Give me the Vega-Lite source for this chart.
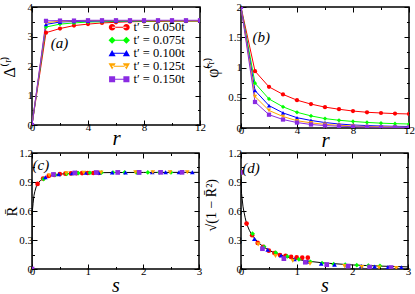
{
  "$schema": "https://vega.github.io/schema/vega-lite/v6.json",
  "padding": {"left": 0, "top": 0, "right": 0, "bottom": 0},
  "background": "white",
  "bounds": "flush",
  "columns": 2,
  "spacing": {"row": 25, "column": 41},
  "datasets": {
    "ab": [
      {"series": "t′ = 0.050t", "shp": "circle", "r": 0, "delta": 0, "phi": 2},
      {"series": "t′ = 0.050t", "shp": "circle", "r": 1, "delta": 3.13, "phi": 0.94},
      {"series": "t′ = 0.050t", "shp": "circle", "r": 2, "delta": 3.27, "phi": 0.68},
      {"series": "t′ = 0.050t", "shp": "circle", "r": 3, "delta": 3.37, "phi": 0.555},
      {"series": "t′ = 0.050t", "shp": "circle", "r": 4, "delta": 3.42, "phi": 0.46},
      {"series": "t′ = 0.050t", "shp": "circle", "r": 5, "delta": 3.46, "phi": 0.395},
      {"series": "t′ = 0.050t", "shp": "circle", "r": 6, "delta": 3.48, "phi": 0.345},
      {"series": "t′ = 0.050t", "shp": "circle", "r": 7, "delta": 3.5, "phi": 0.31},
      {"series": "t′ = 0.050t", "shp": "circle", "r": 8, "delta": 3.51, "phi": 0.28},
      {"series": "t′ = 0.050t", "shp": "circle", "r": 9, "delta": 3.51, "phi": 0.26},
      {"series": "t′ = 0.050t", "shp": "circle", "r": 10, "delta": 3.52, "phi": 0.248},
      {"series": "t′ = 0.050t", "shp": "circle", "r": 11, "delta": 3.52, "phi": 0.238},
      {"series": "t′ = 0.050t", "shp": "circle", "r": 12, "delta": 3.52, "phi": 0.232},
      {"series": "t′ = 0.075t", "shp": "diamond", "r": 0, "delta": 0, "phi": 2},
      {"series": "t′ = 0.075t", "shp": "diamond", "r": 1, "delta": 3.32, "phi": 0.74},
      {"series": "t′ = 0.075t", "shp": "diamond", "r": 2, "delta": 3.42, "phi": 0.48},
      {"series": "t′ = 0.075t", "shp": "diamond", "r": 3, "delta": 3.46, "phi": 0.35},
      {"series": "t′ = 0.075t", "shp": "diamond", "r": 4, "delta": 3.49, "phi": 0.26},
      {"series": "t′ = 0.075t", "shp": "diamond", "r": 5, "delta": 3.5, "phi": 0.2},
      {"series": "t′ = 0.075t", "shp": "diamond", "r": 6, "delta": 3.51, "phi": 0.155},
      {"series": "t′ = 0.075t", "shp": "diamond", "r": 7, "delta": 3.52, "phi": 0.128},
      {"series": "t′ = 0.075t", "shp": "diamond", "r": 8, "delta": 3.52, "phi": 0.108},
      {"series": "t′ = 0.075t", "shp": "diamond", "r": 9, "delta": 3.53, "phi": 0.092},
      {"series": "t′ = 0.075t", "shp": "diamond", "r": 10, "delta": 3.53, "phi": 0.08},
      {"series": "t′ = 0.075t", "shp": "diamond", "r": 11, "delta": 3.53, "phi": 0.072},
      {"series": "t′ = 0.075t", "shp": "diamond", "r": 12, "delta": 3.53, "phi": 0.066},
      {"series": "t′ = 0.100t", "shp": "triangle-up", "r": 0, "delta": 0, "phi": 2},
      {"series": "t′ = 0.100t", "shp": "triangle-up", "r": 1, "delta": 3.41, "phi": 0.62},
      {"series": "t′ = 0.100t", "shp": "triangle-up", "r": 2, "delta": 3.49, "phi": 0.37},
      {"series": "t′ = 0.100t", "shp": "triangle-up", "r": 3, "delta": 3.51, "phi": 0.25},
      {"series": "t′ = 0.100t", "shp": "triangle-up", "r": 4, "delta": 3.52, "phi": 0.17},
      {"series": "t′ = 0.100t", "shp": "triangle-up", "r": 5, "delta": 3.53, "phi": 0.125},
      {"series": "t′ = 0.100t", "shp": "triangle-up", "r": 6, "delta": 3.53, "phi": 0.09},
      {"series": "t′ = 0.100t", "shp": "triangle-up", "r": 7, "delta": 3.53, "phi": 0.066},
      {"series": "t′ = 0.100t", "shp": "triangle-up", "r": 8, "delta": 3.54, "phi": 0.05},
      {"series": "t′ = 0.100t", "shp": "triangle-up", "r": 9, "delta": 3.54, "phi": 0.04},
      {"series": "t′ = 0.100t", "shp": "triangle-up", "r": 10, "delta": 3.54, "phi": 0.033},
      {"series": "t′ = 0.100t", "shp": "triangle-up", "r": 11, "delta": 3.54, "phi": 0.028},
      {"series": "t′ = 0.100t", "shp": "triangle-up", "r": 12, "delta": 3.54, "phi": 0.025},
      {"series": "t′ = 0.125t", "shp": "triangle-down", "r": 0, "delta": 0, "phi": 2},
      {"series": "t′ = 0.125t", "shp": "triangle-down", "r": 1, "delta": 3.47, "phi": 0.52},
      {"series": "t′ = 0.125t", "shp": "triangle-down", "r": 2, "delta": 3.52, "phi": 0.29},
      {"series": "t′ = 0.125t", "shp": "triangle-down", "r": 3, "delta": 3.53, "phi": 0.19},
      {"series": "t′ = 0.125t", "shp": "triangle-down", "r": 4, "delta": 3.54, "phi": 0.12},
      {"series": "t′ = 0.125t", "shp": "triangle-down", "r": 5, "delta": 3.54, "phi": 0.085},
      {"series": "t′ = 0.125t", "shp": "triangle-down", "r": 6, "delta": 3.54, "phi": 0.06},
      {"series": "t′ = 0.125t", "shp": "triangle-down", "r": 7, "delta": 3.54, "phi": 0.044},
      {"series": "t′ = 0.125t", "shp": "triangle-down", "r": 8, "delta": 3.54, "phi": 0.033},
      {"series": "t′ = 0.125t", "shp": "triangle-down", "r": 9, "delta": 3.54, "phi": 0.025},
      {"series": "t′ = 0.125t", "shp": "triangle-down", "r": 10, "delta": 3.54, "phi": 0.02},
      {"series": "t′ = 0.125t", "shp": "triangle-down", "r": 11, "delta": 3.54, "phi": 0.015},
      {"series": "t′ = 0.125t", "shp": "triangle-down", "r": 12, "delta": 3.54, "phi": 0.012},
      {"series": "t′ = 0.150t", "shp": "square", "r": 0, "delta": 0, "phi": 2},
      {"series": "t′ = 0.150t", "shp": "square", "r": 1, "delta": 3.53, "phi": 0.43},
      {"series": "t′ = 0.150t", "shp": "square", "r": 2, "delta": 3.54, "phi": 0.22},
      {"series": "t′ = 0.150t", "shp": "square", "r": 3, "delta": 3.54, "phi": 0.14},
      {"series": "t′ = 0.150t", "shp": "square", "r": 4, "delta": 3.55, "phi": 0.09},
      {"series": "t′ = 0.150t", "shp": "square", "r": 5, "delta": 3.55, "phi": 0.058},
      {"series": "t′ = 0.150t", "shp": "square", "r": 6, "delta": 3.55, "phi": 0.04},
      {"series": "t′ = 0.150t", "shp": "square", "r": 7, "delta": 3.55, "phi": 0.03},
      {"series": "t′ = 0.150t", "shp": "square", "r": 8, "delta": 3.55, "phi": 0.021},
      {"series": "t′ = 0.150t", "shp": "square", "r": 9, "delta": 3.55, "phi": 0.016},
      {"series": "t′ = 0.150t", "shp": "square", "r": 10, "delta": 3.55, "phi": 0.012},
      {"series": "t′ = 0.150t", "shp": "square", "r": 11, "delta": 3.55, "phi": 0.01},
      {"series": "t′ = 0.150t", "shp": "square", "r": 12, "delta": 3.55, "phi": 0.008}
    ],
    "legendRows": [
      {"series": "t′ = 0.050t"},
      {"series": "t′ = 0.075t"},
      {"series": "t′ = 0.100t"},
      {"series": "t′ = 0.125t"},
      {"series": "t′ = 0.150t"}
    ],
    "cd": [
      {"series": "t′ = 0.050t", "shp": "circle", "s": 0, "R": 0, "d": 1.0},
      {"series": "t′ = 0.050t", "shp": "circle", "s": 0.1, "R": 0.88, "d": 0.47},
      {"series": "t′ = 0.050t", "shp": "circle", "s": 0.2, "R": 0.935, "d": 0.35},
      {"series": "t′ = 0.050t", "shp": "circle", "s": 0.3, "R": 0.963, "d": 0.27},
      {"series": "t′ = 0.050t", "shp": "circle", "s": 0.4, "R": 0.973, "d": 0.23},
      {"series": "t′ = 0.050t", "shp": "circle", "s": 0.5, "R": 0.982, "d": 0.19},
      {"series": "t′ = 0.050t", "shp": "circle", "s": 0.6, "R": 0.986, "d": 0.165},
      {"series": "t′ = 0.050t", "shp": "circle", "s": 0.7, "R": 0.989, "d": 0.145},
      {"series": "t′ = 0.050t", "shp": "circle", "s": 0.8, "R": 0.991, "d": 0.135},
      {"series": "t′ = 0.050t", "shp": "circle", "s": 0.9, "R": 0.992, "d": 0.125},
      {"series": "t′ = 0.050t", "shp": "circle", "s": 1.0, "R": 0.993, "d": 0.12},
      {"series": "t′ = 0.050t", "shp": "circle", "s": 1.1, "R": 0.993, "d": 0.117},
      {"series": "t′ = 0.050t", "shp": "circle", "s": 1.2, "R": 0.993, "d": 0.117},
      {"series": "t′ = 0.075t", "shp": "diamond", "s": 0, "R": 0, "d": 1.0},
      {"series": "t′ = 0.075t", "shp": "diamond", "s": 0.208, "R": 0.93, "d": 0.365},
      {"series": "t′ = 0.075t", "shp": "diamond", "s": 0.416, "R": 0.973, "d": 0.23},
      {"series": "t′ = 0.075t", "shp": "diamond", "s": 0.624, "R": 0.985, "d": 0.17},
      {"series": "t′ = 0.075t", "shp": "diamond", "s": 0.832, "R": 0.991, "d": 0.13},
      {"series": "t′ = 0.075t", "shp": "diamond", "s": 1.04, "R": 0.995, "d": 0.1},
      {"series": "t′ = 0.075t", "shp": "diamond", "s": 1.248, "R": 0.997, "d": 0.075},
      {"series": "t′ = 0.075t", "shp": "diamond", "s": 1.456, "R": 0.998, "d": 0.06},
      {"series": "t′ = 0.075t", "shp": "diamond", "s": 1.664, "R": 0.999, "d": 0.05},
      {"series": "t′ = 0.075t", "shp": "diamond", "s": 1.872, "R": 0.999, "d": 0.045},
      {"series": "t′ = 0.075t", "shp": "diamond", "s": 2.08, "R": 0.999, "d": 0.04},
      {"series": "t′ = 0.075t", "shp": "diamond", "s": 2.288, "R": 0.999, "d": 0.035},
      {"series": "t′ = 0.075t", "shp": "diamond", "s": 2.496, "R": 0.999, "d": 0.033},
      {"series": "t′ = 0.100t", "shp": "triangle-up", "s": 0, "R": 0, "d": 1.0},
      {"series": "t′ = 0.100t", "shp": "triangle-up", "s": 0.24, "R": 0.95, "d": 0.31},
      {"series": "t′ = 0.100t", "shp": "triangle-up", "s": 0.48, "R": 0.98, "d": 0.2},
      {"series": "t′ = 0.100t", "shp": "triangle-up", "s": 0.72, "R": 0.99, "d": 0.14},
      {"series": "t′ = 0.100t", "shp": "triangle-up", "s": 0.96, "R": 0.995, "d": 0.1},
      {"series": "t′ = 0.100t", "shp": "triangle-up", "s": 1.2, "R": 0.997, "d": 0.075},
      {"series": "t′ = 0.100t", "shp": "triangle-up", "s": 1.44, "R": 0.998, "d": 0.055},
      {"series": "t′ = 0.100t", "shp": "triangle-up", "s": 1.68, "R": 0.999, "d": 0.045},
      {"series": "t′ = 0.100t", "shp": "triangle-up", "s": 1.92, "R": 0.999, "d": 0.035},
      {"series": "t′ = 0.100t", "shp": "triangle-up", "s": 2.16, "R": 1.0, "d": 0.03},
      {"series": "t′ = 0.100t", "shp": "triangle-up", "s": 2.4, "R": 1.0, "d": 0.025},
      {"series": "t′ = 0.100t", "shp": "triangle-up", "s": 2.64, "R": 1.0, "d": 0.02},
      {"series": "t′ = 0.100t", "shp": "triangle-up", "s": 2.88, "R": 1.0, "d": 0.018},
      {"series": "t′ = 0.125t", "shp": "triangle-down", "s": 0, "R": 0, "d": 1.0},
      {"series": "t′ = 0.125t", "shp": "triangle-down", "s": 0.31, "R": 0.967, "d": 0.255},
      {"series": "t′ = 0.125t", "shp": "triangle-down", "s": 0.62, "R": 0.991, "d": 0.134},
      {"series": "t′ = 0.125t", "shp": "triangle-down", "s": 0.93, "R": 0.996, "d": 0.085},
      {"series": "t′ = 0.125t", "shp": "triangle-down", "s": 1.24, "R": 0.998, "d": 0.055},
      {"series": "t′ = 0.125t", "shp": "triangle-down", "s": 1.55, "R": 0.999, "d": 0.04},
      {"series": "t′ = 0.125t", "shp": "triangle-down", "s": 1.86, "R": 1.0, "d": 0.03},
      {"series": "t′ = 0.125t", "shp": "triangle-down", "s": 2.17, "R": 1.0, "d": 0.02},
      {"series": "t′ = 0.125t", "shp": "triangle-down", "s": 2.48, "R": 1.0, "d": 0.015},
      {"series": "t′ = 0.125t", "shp": "triangle-down", "s": 2.79, "R": 1.0, "d": 0.01},
      {"series": "t′ = 0.150t", "shp": "square", "s": 0, "R": 0, "d": 1.0},
      {"series": "t′ = 0.150t", "shp": "square", "s": 0.385, "R": 0.978, "d": 0.21},
      {"series": "t′ = 0.150t", "shp": "square", "s": 0.77, "R": 0.994, "d": 0.107},
      {"series": "t′ = 0.150t", "shp": "square", "s": 1.155, "R": 0.998, "d": 0.07},
      {"series": "t′ = 0.150t", "shp": "square", "s": 1.54, "R": 0.999, "d": 0.045},
      {"series": "t′ = 0.150t", "shp": "square", "s": 1.925, "R": 1.0, "d": 0.03},
      {"series": "t′ = 0.150t", "shp": "square", "s": 2.31, "R": 1.0, "d": 0.02},
      {"series": "t′ = 0.150t", "shp": "square", "s": 2.695, "R": 1.0, "d": 0.015}
    ],
    "curveC": [
      {"s": 0, "R": 0}, {"s": 0.001, "R": 0.3}, {"s": 0.003, "R": 0.45}, {"s": 0.006, "R": 0.55},
      {"s": 0.01, "R": 0.62}, {"s": 0.02, "R": 0.68}, {"s": 0.035, "R": 0.76}, {"s": 0.05, "R": 0.8},
      {"s": 0.075, "R": 0.85}, {"s": 0.1, "R": 0.88}, {"s": 0.15, "R": 0.915}, {"s": 0.2, "R": 0.935},
      {"s": 0.3, "R": 0.96}, {"s": 0.4, "R": 0.973}, {"s": 0.5, "R": 0.981}, {"s": 0.6, "R": 0.986},
      {"s": 0.8, "R": 0.992}, {"s": 1.0, "R": 0.995}, {"s": 1.5, "R": 0.998}, {"s": 2.0, "R": 0.999},
      {"s": 3.0, "R": 1.0}
    ],
    "curveD": [
      {"s": 0.001, "d": 0.95}, {"s": 0.003, "d": 0.89}, {"s": 0.006, "d": 0.84}, {"s": 0.01, "d": 0.78},
      {"s": 0.02, "d": 0.73}, {"s": 0.035, "d": 0.65}, {"s": 0.05, "d": 0.6}, {"s": 0.075, "d": 0.53},
      {"s": 0.1, "d": 0.47}, {"s": 0.15, "d": 0.4}, {"s": 0.2, "d": 0.35}, {"s": 0.3, "d": 0.28},
      {"s": 0.4, "d": 0.23}, {"s": 0.5, "d": 0.195}, {"s": 0.6, "d": 0.167}, {"s": 0.8, "d": 0.127},
      {"s": 1.0, "d": 0.1}, {"s": 1.25, "d": 0.078}, {"s": 1.5, "d": 0.062}, {"s": 2.0, "d": 0.042},
      {"s": 2.5, "d": 0.03}, {"s": 3.0, "d": 0.022}
    ]
  },
  "concat": [
    {
      "width": 168, "height": 118,
      "data": {"name": "ab"},
      "layer": [
        {
          "mark": {"type": "line", "strokeWidth": 1, "clip": true},
          "encoding": {
            "x": {"field": "r", "type": "quantitative", "scale": {"domain": [0, 12], "nice": false}, "axis": {"orient": "bottom", "values": [0, 4, 8, 12], "tickSize": -5, "title": "r", "titleFontStyle": "italic", "titleFontSize": 21, "titleY": 13, "titleBaseline": "middle"}},
            "y": {"field": "delta", "type": "quantitative", "scale": {"domain": [0, 4], "nice": false}, "axis": {"orient": "left", "values": [0, 1, 2, 3, 4], "tickSize": -5, "title": "Δ⁽ʳ⁾", "titleFontSize": 16, "titleX": -23, "titleBaseline": "middle"}},
            "color": {"field": "series", "type": "nominal", "scale": {"domain": ["t′ = 0.050t", "t′ = 0.075t", "t′ = 0.100t", "t′ = 0.125t", "t′ = 0.150t"], "range": ["#ff0000", "#00ff00", "#0000ff", "#ffa500", "#8a2be2"]}, "legend": {"title": null, "orient": "none", "legendX": 81, "legendY": 14, "zindex": 5, "labelFont": "Liberation Serif", "labelFontSize": 12.5, "labelColor": "black", "symbolSize": 121, "rowPadding": -1, "labelOffset": 8, "symbolStrokeWidth": 0}}
          }
        },
        {
          "mark": {"type": "point", "filled": true, "size": 18, "opacity": 1, "clip": true},
          "encoding": {
            "x": {"field": "r", "type": "quantitative", "scale": {"domain": [0, 12], "nice": false}, "axis": {"orient": "top", "values": [0, 4, 8, 12], "tickSize": -5, "labels": false, "title": null}},
            "y": {"field": "delta", "type": "quantitative", "scale": {"domain": [0, 4], "nice": false}, "axis": {"orient": "right", "values": [0, 1, 2, 3, 4], "tickSize": -5, "labels": false, "title": null}},
            "color": {"field": "series", "type": "nominal"},
            "shape": {"field": "shp", "type": "nominal", "scale": null}
          }
        },
        {
          "data": {"values": [{"label": "(a)"}]},
          "mark": {"type": "text", "font": "Liberation Serif", "fontStyle": "italic", "fontSize": 15, "align": "center", "baseline": "middle"},
          "encoding": {
            "x": {"datum": 1.96, "type": "quantitative", "scale": {"domain": [0, 12], "nice": false}, "axis": {"orient": "bottom", "values": [2, 6, 10], "tickSize": -2.5, "labels": false, "title": null}},
            "y": {"datum": 2.78, "type": "quantitative", "scale": {"domain": [0, 4], "nice": false}, "axis": {"orient": "left", "values": [0.5, 1.5, 2.5, 3.5], "tickSize": -2.5, "labels": false, "title": null}},
            "text": {"field": "label"}
          }
        },
        {
          "data": {"name": "legendRows"},
          "mark": {"type": "point", "filled": true, "size": 121, "strokeWidth": 0, "opacity": 1, "clip": true},
          "encoding": {
            "x": {"datum": -20, "type": "quantitative", "scale": {"domain": [0, 12], "nice": false}, "axis": {"orient": "top", "values": [2, 6, 10], "tickSize": -2.5, "labels": false, "title": null}},
            "y": {"datum": -20, "type": "quantitative", "scale": {"domain": [0, 4], "nice": false}, "axis": {"orient": "right", "values": [0.5, 1.5, 2.5, 3.5], "tickSize": -2.5, "labels": false, "title": null}},
            "color": {"field": "series", "type": "nominal", "legend": {"title": null, "orient": "none", "legendX": 81, "legendY": 14, "zindex": 5, "labelFont": "Liberation Serif", "labelFontSize": 12.5, "labelColor": "black", "symbolSize": 121, "rowPadding": -1, "labelOffset": 8, "symbolStrokeWidth": 0}},
            "shape": {"field": "series", "type": "nominal", "scale": {"domain": ["t′ = 0.050t", "t′ = 0.075t", "t′ = 0.100t", "t′ = 0.125t", "t′ = 0.150t"], "range": [
              "M-1.9,0a0.6,0.6 0 1,0 1.2,0a0.6,0.6 0 1,0 -1.2,0ZM0.7,0a0.6,0.6 0 1,0 1.2,0a0.6,0.6 0 1,0 -1.2,0ZM-1.3,-0.1H1.3V0.1H-1.3Z",
              "M-1.95,0L-1.3,-0.65L-0.65,0L-1.3,0.65ZM0.65,0L1.3,-0.65L1.95,0L1.3,0.65ZM-1.3,-0.1H1.3V0.1H-1.3Z",
              "M-1.95,0.55L-1.3,-0.6L-0.65,0.55ZM0.65,0.55L1.3,-0.6L1.95,0.55ZM-1.3,-0.1H1.3V0.1H-1.3Z",
              "M-1.95,-0.55L-1.3,0.6L-0.65,-0.55ZM0.65,-0.55L1.3,0.6L1.95,-0.55ZM-1.3,-0.1H1.3V0.1H-1.3Z",
              "M-1.85,-0.55H-0.75V0.55H-1.85ZM0.75,-0.55H1.85V0.55H0.75ZM-1.3,-0.1H1.3V0.1H-1.3Z"
            ]}, "legend": {"title": null, "orient": "none", "legendX": 81, "legendY": 14, "zindex": 5, "labelFont": "Liberation Serif", "labelFontSize": 12.5, "labelColor": "black", "symbolSize": 121, "rowPadding": -1, "labelOffset": 8, "symbolStrokeWidth": 0}}
          }
        }
      ],
      "resolve": {"axis": {"x": "independent", "y": "independent"}}
    },
    {
      "width": 168, "height": 121,
      "data": {"name": "ab"},
      "layer": [
        {
          "mark": {"type": "line", "strokeWidth": 1, "clip": true},
          "encoding": {
            "x": {"field": "r", "type": "quantitative", "scale": {"domain": [0, 12], "nice": false}, "axis": {"orient": "bottom", "values": [0, 4, 8, 12], "tickSize": -5, "title": "r", "titleFontStyle": "italic", "titleFontSize": 21, "titleY": 12, "titleBaseline": "middle"}},
            "y": {"field": "phi", "type": "quantitative", "scale": {"domain": [0, 2], "nice": false}, "axis": {"orient": "left", "values": [0, 0.5, 1, 1.5, 2], "format": "~g", "tickSize": -5, "title": null}},
            "color": {"field": "series", "type": "nominal"}
          }
        },
        {
          "mark": {"type": "point", "filled": true, "size": 18, "opacity": 1, "clip": true},
          "encoding": {
            "x": {"field": "r", "type": "quantitative", "scale": {"domain": [0, 12], "nice": false}, "axis": {"orient": "top", "values": [0, 4, 8, 12], "tickSize": -5, "labels": false, "title": null}},
            "y": {"field": "phi", "type": "quantitative", "scale": {"domain": [0, 2], "nice": false}, "axis": {"orient": "right", "values": [0, 0.5, 1, 1.5, 2], "tickSize": -5, "labels": false, "title": null}},
            "color": {"field": "series", "type": "nominal"},
            "shape": {"field": "shp", "type": "nominal", "scale": null}
          }
        },
        {
          "data": {"values": [{"label": "(b)"}]},
          "mark": {"type": "text", "font": "Liberation Serif", "fontStyle": "italic", "fontSize": 15, "align": "center", "baseline": "middle"},
          "encoding": {
            "x": {"datum": 1.45, "type": "quantitative", "scale": {"domain": [0, 12], "nice": false}, "axis": {"orient": "bottom", "values": [2, 6, 10], "tickSize": -2.5, "labels": false, "title": null}},
            "y": {"datum": 1.5, "type": "quantitative", "scale": {"domain": [0, 2], "nice": false}, "axis": {"orient": "left", "values": [0.25, 0.75, 1.25, 1.75], "tickSize": -2.5, "labels": false, "title": null}},
            "text": {"field": "label"}
          }
        },
        {
          "data": {"values": [{"label": "φ̃⁽ʳ⁾"}]},
          "mark": {"type": "text", "font": "Liberation Serif", "fontSize": 16, "angle": 270, "align": "center", "baseline": "middle"},
          "encoding": {
            "x": {"datum": -2.0, "type": "quantitative", "scale": {"domain": [0, 12], "nice": false}, "axis": {"orient": "top", "values": [2, 6, 10], "tickSize": -2.5, "labels": false, "title": null}},
            "y": {"datum": 1.0, "type": "quantitative", "scale": {"domain": [0, 2], "nice": false}, "axis": {"orient": "right", "values": [0.25, 0.75, 1.25, 1.75], "tickSize": -2.5, "labels": false, "title": null}},
            "text": {"field": "label"}
          }
        }
      ],
      "resolve": {"axis": {"x": "independent", "y": "independent"}}
    },
    {
      "width": 167, "height": 116,
      "layer": [
        {
          "data": {"name": "curveC"},
          "mark": {"type": "line", "strokeWidth": 1, "color": "black", "clip": true},
          "encoding": {
            "x": {"field": "s", "type": "quantitative", "scale": {"domain": [0, 3], "nice": false}, "axis": {"orient": "bottom", "values": [0, 1, 2, 3], "tickSize": -5, "title": "s", "titleFontStyle": "italic", "titleFontSize": 20, "titleY": 16, "titleBaseline": "middle"}},
            "y": {"field": "R", "type": "quantitative", "scale": {"domain": [0, 1.2], "nice": false}, "axis": {"orient": "left", "values": [0, 0.3, 0.6, 0.9, 1.2], "format": "~g", "tickSize": -5, "title": "R̄", "titleFontSize": 15, "titleX": -21, "titleBaseline": "middle"}}
          }
        },
        {
          "data": {"name": "cd"},
          "mark": {"type": "point", "filled": true, "size": 22, "opacity": 1, "clip": true},
          "encoding": {
            "x": {"field": "s", "type": "quantitative", "scale": {"domain": [0, 3], "nice": false}, "axis": {"orient": "top", "values": [0, 1, 2, 3], "tickSize": -5, "labels": false, "title": null}},
            "y": {"field": "R", "type": "quantitative", "scale": {"domain": [0, 1.2], "nice": false}, "axis": {"orient": "right", "values": [0, 0.3, 0.6, 0.9, 1.2], "tickSize": -5, "labels": false, "title": null}},
            "color": {"field": "series", "type": "nominal"},
            "shape": {"field": "shp", "type": "nominal", "scale": null}
          }
        },
        {
          "data": {"values": [{"label": "(c)"}]},
          "mark": {"type": "text", "font": "Liberation Serif", "fontStyle": "italic", "fontSize": 15, "align": "center", "baseline": "middle"},
          "encoding": {
            "x": {"datum": 0.16, "type": "quantitative", "scale": {"domain": [0, 3], "nice": false}, "axis": {"orient": "bottom", "values": [0.5, 1.5, 2.5], "tickSize": -2.5, "labels": false, "title": null}},
            "y": {"datum": 1.08, "type": "quantitative", "scale": {"domain": [0, 1.2], "nice": false}, "axis": {"orient": "left", "values": [0.15, 0.45, 0.75, 1.05], "tickSize": -2.5, "labels": false, "title": null}},
            "text": {"field": "label"}
          }
        },
        {
          "data": {"name": "curveC"},
          "transform": [{"filter": "false"}],
          "mark": {"type": "point"},
          "encoding": {
            "x": {"field": "s", "type": "quantitative", "scale": {"domain": [0, 3], "nice": false}, "axis": {"orient": "top", "values": [0.5, 1.5, 2.5], "tickSize": -2.5, "labels": false, "title": null}},
            "y": {"field": "R", "type": "quantitative", "scale": {"domain": [0, 1.2], "nice": false}, "axis": {"orient": "right", "values": [0.15, 0.45, 0.75, 1.05], "tickSize": -2.5, "labels": false, "title": null}}
          }
        }
      ],
      "resolve": {"axis": {"x": "independent", "y": "independent"}}
    },
    {
      "width": 167, "height": 116,
      "layer": [
        {
          "data": {"name": "curveD"},
          "mark": {"type": "line", "strokeWidth": 1, "color": "black", "clip": true},
          "encoding": {
            "x": {"field": "s", "type": "quantitative", "scale": {"domain": [0, 3], "nice": false}, "axis": {"orient": "bottom", "values": [0, 1, 2, 3], "tickSize": -5, "title": "s", "titleFontStyle": "italic", "titleFontSize": 20, "titleY": 16, "titleBaseline": "middle"}},
            "y": {"field": "d", "type": "quantitative", "scale": {"domain": [0, 1.2], "nice": false}, "axis": {"orient": "left", "values": [0, 0.3, 0.6, 0.9, 1.2], "format": "~g", "tickSize": -5, "title": null}}
          }
        },
        {
          "data": {"name": "cd"},
          "mark": {"type": "point", "filled": true, "size": 22, "opacity": 1, "clip": true},
          "encoding": {
            "x": {"field": "s", "type": "quantitative", "scale": {"domain": [0, 3], "nice": false}, "axis": {"orient": "top", "values": [0, 1, 2, 3], "tickSize": -5, "labels": false, "title": null}},
            "y": {"field": "d", "type": "quantitative", "scale": {"domain": [0, 1.2], "nice": false}, "axis": {"orient": "right", "values": [0, 0.3, 0.6, 0.9, 1.2], "tickSize": -5, "labels": false, "title": null}},
            "color": {"field": "series", "type": "nominal"},
            "shape": {"field": "shp", "type": "nominal", "scale": null}
          }
        },
        {
          "data": {"values": [{"label": "(d)"}]},
          "mark": {"type": "text", "font": "Liberation Serif", "fontStyle": "italic", "fontSize": 15, "align": "center", "baseline": "middle"},
          "encoding": {
            "x": {"datum": 0.18, "type": "quantitative", "scale": {"domain": [0, 3], "nice": false}, "axis": {"orient": "bottom", "values": [0.5, 1.5, 2.5], "tickSize": -2.5, "labels": false, "title": null}},
            "y": {"datum": 1.05, "type": "quantitative", "scale": {"domain": [0, 1.2], "nice": false}, "axis": {"orient": "left", "values": [0.15, 0.45, 0.75, 1.05], "tickSize": -2.5, "labels": false, "title": null}},
            "text": {"field": "label"}
          }
        },
        {
          "data": {"values": [{"label": "√(1 − R̄²)"}]},
          "mark": {"type": "text", "font": "Liberation Serif", "fontSize": 14, "angle": 270, "align": "center", "baseline": "middle"},
          "encoding": {
            "x": {"datum": -0.52, "type": "quantitative", "scale": {"domain": [0, 3], "nice": false}, "axis": {"orient": "top", "values": [0.5, 1.5, 2.5], "tickSize": -2.5, "labels": false, "title": null}},
            "y": {"datum": 0.66, "type": "quantitative", "scale": {"domain": [0, 1.2], "nice": false}, "axis": {"orient": "right", "values": [0.15, 0.45, 0.75, 1.05], "tickSize": -2.5, "labels": false, "title": null}},
            "text": {"field": "label"}
          }
        }
      ],
      "resolve": {"axis": {"x": "independent", "y": "independent"}}
    }
  ],
  "config": {
    "view": {"stroke": "black", "strokeWidth": 1.5},
    "axis": {
      "domain": false,
      "grid": false,
      "tickColor": "black",
      "tickWidth": 1,
      "labelFont": "Liberation Serif",
      "labelFontSize": 11,
      "labelColor": "black",
      "labelFlush": false,
      "labelOverlap": false,
      "labelBound": false,
      "titleFont": "Liberation Serif",
      "titleColor": "black",
      "titleFontWeight": "normal"
    },
    "axisX": {"labelPadding": 1},
    "axisY": {"labelPadding": 4.5},
    "legend": {"labelFont": "Liberation Serif"}
  }
}
